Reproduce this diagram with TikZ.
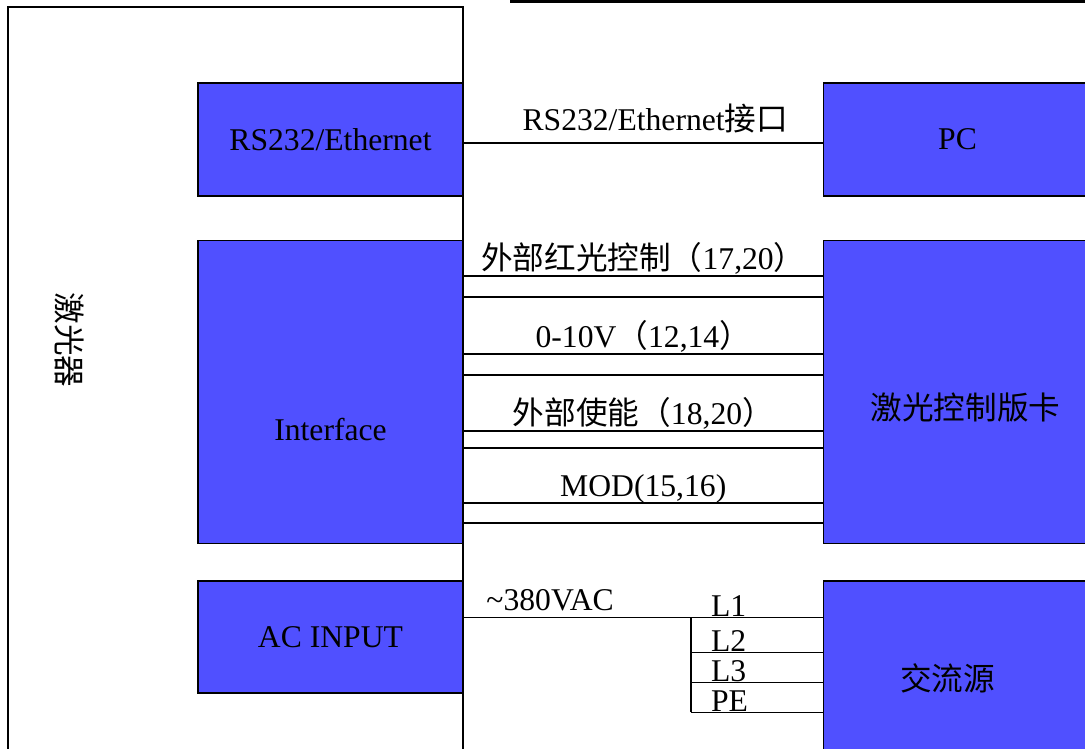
\documentclass[tikz,border=0pt]{standalone}
\usepackage{fontspec}
\setmainfont{Liberation Serif}
\newfontfamily\cjk{Noto Sans CJK SC}
\usetikzlibrary{positioning}
\definecolor{boxblue}{RGB}{80,80,255}
\tikzset{
    block/.style={rectangle, draw, line width=1pt, fill=boxblue, minimum width=6.625cm, inner sep=0pt},
    wire/.style={draw, line width=1pt},
    tag/.style={anchor=base, inner sep=0pt}
}

\begin{document}
\begin{tikzpicture}[x=0.025cm, y=-0.025cm, font=\fontsize{22.5}{27}\selectfont]
    \useasboundingbox (0,0) rectangle (1085,749);
    \clip (0,0) rectangle (1085,749);
    % Frame cut off at the top
    \draw[line width=2.8pt] (510,1) -- (1100,1);
    % Laser housing
    \draw[line width=1pt] (8,800) -- (8,7) -- (463,7) -- (463,800);
    \node[rotate=-90] (laser) at (70,340) {\cjk 激光器};
    % Laser side
    \node[block, minimum height=2.825cm] (rs) at (330.5,139.5) {RS232/Ethernet};
    \node[block, minimum height=7.575cm, below=1.08cm of rs, label={[yshift=-0.94cm]center:Interface}] (iface) {};
    \node[block, minimum height=2.8cm, below=0.9cm of iface] (acin) {AC INPUT};
    % Outside
    \node[block, minimum width=6.7cm, minimum height=2.825cm, right=8.975cm of rs] (pc) {PC};
    \node[block, minimum width=6.7cm, minimum height=7.575cm, right=8.975cm of iface,
        label={[xshift=0.2cm, yshift=-0.39cm]center:{\cjk 激光控制版卡}}] (card) {};
    \node[block, minimum width=6.7cm, minimum height=4.85cm, below=0.9cm of card,
        label={[xshift=-0.25cm]center:{\cjk 交流源}}] (acsrc) {};

    % Serial / network link
    \draw[wire] ([yshift=-0.0875cm]rs.east) -- ([yshift=-0.0875cm]pc.west)
        node[tag, midway, xshift=0.3cm, yshift=0.3cm] {RS232/Ethernet{\cjk 接口}};
    % Interface signal pairs
    \foreach \a/\b/\t in {0.9/1.425/{{\cjk 外部红光控制（}17,20{\cjk ）}},
                          2.85/3.375/{0-10V{\cjk （}12,14{\cjk ）}},
                          4.775/5.2/{{\cjk 外部使能（}18,20{\cjk ）}},
                          6.575/7.075/{MOD(15,16)}} {
        \draw[wire] ([yshift=-\a cm]iface.north east) -- ([yshift=-\a cm]card.north west)
            node[tag, midway, yshift=0.15cm] {\t};
        \draw[wire] ([yshift=-\b cm]iface.north east) -- ([yshift=-\b cm]card.north west);
    }
    % Mains supply
    \draw[wire] ([yshift=-0.925cm]acin.north east) -- ([yshift=-0.925cm]acsrc.north west)
        node[tag, pos=0, anchor=base west, xshift=0.55cm, yshift=0.17cm] {\textasciitilde380VAC};
    \coordinate (jn) at ([xshift=5.675cm, yshift=-0.925cm]acin.north east);
    \draw[wire] (jn) -- ([yshift=-2.375cm]jn);
    \foreach \d in {0.875,1.625,2.375} {
        \path ([yshift=-\d cm]jn) coordinate (tap);
        \draw[wire] (tap) -- (tap -| acsrc.west);
    }
    \foreach \t/\d [count=\i] in {L1/0, L2/0.875, L3/1.625, PE/2.375}
        \node[tag, anchor=base west] (ph\i) at ([xshift=0.5cm, yshift={(0.02-\d)*1cm}]jn) {\t};
\end{tikzpicture}
\end{document}
